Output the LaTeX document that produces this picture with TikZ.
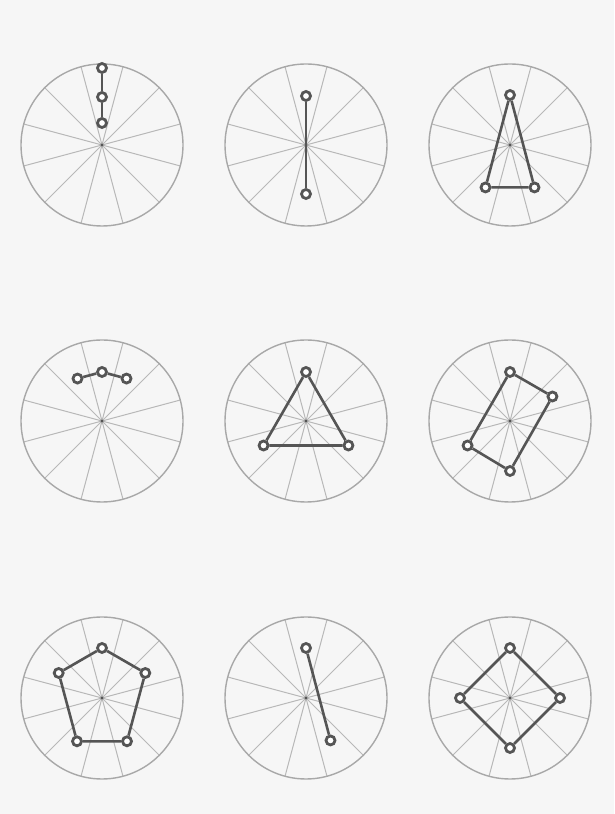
\documentclass[tikz,border=0pt]{standalone}

\definecolor{paper}{HTML}{F6F6F6}
\definecolor{rimgray}{HTML}{A8A8A8}
\definecolor{spokegray}{HTML}{B8B8B8}
\definecolor{linkgray}{HTML}{555555}

\tikzset{
  rim/.style={draw=rimgray, line width=1.4pt},
  spoke/.style={draw=spokegray, line width=1pt},
  peg/.style={circle, draw=linkgray, fill=white, line width=2.8pt,
    inner sep=0pt, minimum size=9pt},
  link/.style={draw=linkgray, line width=2.6pt},
}

% one clock face, drawn around (0,0)
\newcommand{\clockface}{%
  \foreach \a in {15,45,...,165}
    \draw[spoke] (\a:81) -- (\a+180:81);
  \draw[rim] (0,0) circle (81);
  \fill[linkgray] (0,0) circle (1.6);
}

\begin{document}
\begin{tikzpicture}[x=1pt, y=1pt]
    \fill[paper] (0,0) rectangle (614,814);
    \useasboundingbox (0,0) rectangle (614,814);

    % top row
    \begin{scope}[shift={(102,669)}]
        \clockface
        \node[peg] (a1) at (90:77) {};
        \node[peg] (a2) at (90:48) {};
        \node[peg] (a3) at (90:22) {};
        \draw[link] (a1) -- (a2) -- (a3);
    \end{scope}

    \begin{scope}[shift={(306,669)}]
        \clockface
        \node[peg] (b1) at (90:49) {};
        \node[peg] (b2) at (270:49) {};
        \draw[link] (b1) -- (b2);
    \end{scope}

    \begin{scope}[shift={(510,669)}]
        \clockface
        \node[peg] (c1) at (90:50) {};
        \node[peg] (c2) at (240:49) {};
        \node[peg] (c3) at (300:49) {};
        \draw[link] (c1) -- (c2) -- (c3) -- (c1);
    \end{scope}

    % middle row
    \begin{scope}[shift={(102,393)}]
        \clockface
        \node[peg] (d1) at (120:49) {};
        \node[peg] (d2) at (90:49) {};
        \node[peg] (d3) at (60:49) {};
        \draw[link] (d1) -- (d2) -- (d3);
    \end{scope}

    \begin{scope}[shift={(306,393)}]
        \clockface
        \node[peg] (e1) at (90:49) {};
        \node[peg] (e2) at (210:49) {};
        \node[peg] (e3) at (330:49) {};
        \draw[link] (e1) -- (e2) -- (e3) -- (e1);
    \end{scope}

    \begin{scope}[shift={(510,393)}]
        \clockface
        \node[peg] (f1) at (90:49) {};
        \node[peg] (f2) at (30:49) {};
        \node[peg] (f3) at (270:50) {};
        \node[peg] (f4) at (210:49) {};
        \draw[link] (f1) -- (f2) -- (f3) -- (f4) -- (f1);
    \end{scope}

    % bottom row
    \begin{scope}[shift={(102,116)}]
        \clockface
        \node[peg] (g1) at (90:50) {};
        \node[peg] (g2) at (30:50) {};
        \node[peg] (g3) at (300:50) {};
        \node[peg] (g4) at (240:50) {};
        \node[peg] (g5) at (150:50) {};
        \draw[link] (g1) -- (g2) -- (g3) -- (g4) -- (g5) -- (g1);
    \end{scope}

    \begin{scope}[shift={(306,116)}]
        \clockface
        \node[peg] (h1) at (90:50) {};
        \node[peg] (h2) at (300:49) {};
        \draw[link] (h1) -- (h2);
    \end{scope}

    \begin{scope}[shift={(510,116)}]
        \clockface
        \node[peg] (i1) at (90:50) {};
        \node[peg] (i2) at (0:50) {};
        \node[peg] (i3) at (270:50) {};
        \node[peg] (i4) at (180:50) {};
        \draw[link] (i1) -- (i2) -- (i3) -- (i4) -- (i1);
    \end{scope}
\end{tikzpicture}
\end{document}
